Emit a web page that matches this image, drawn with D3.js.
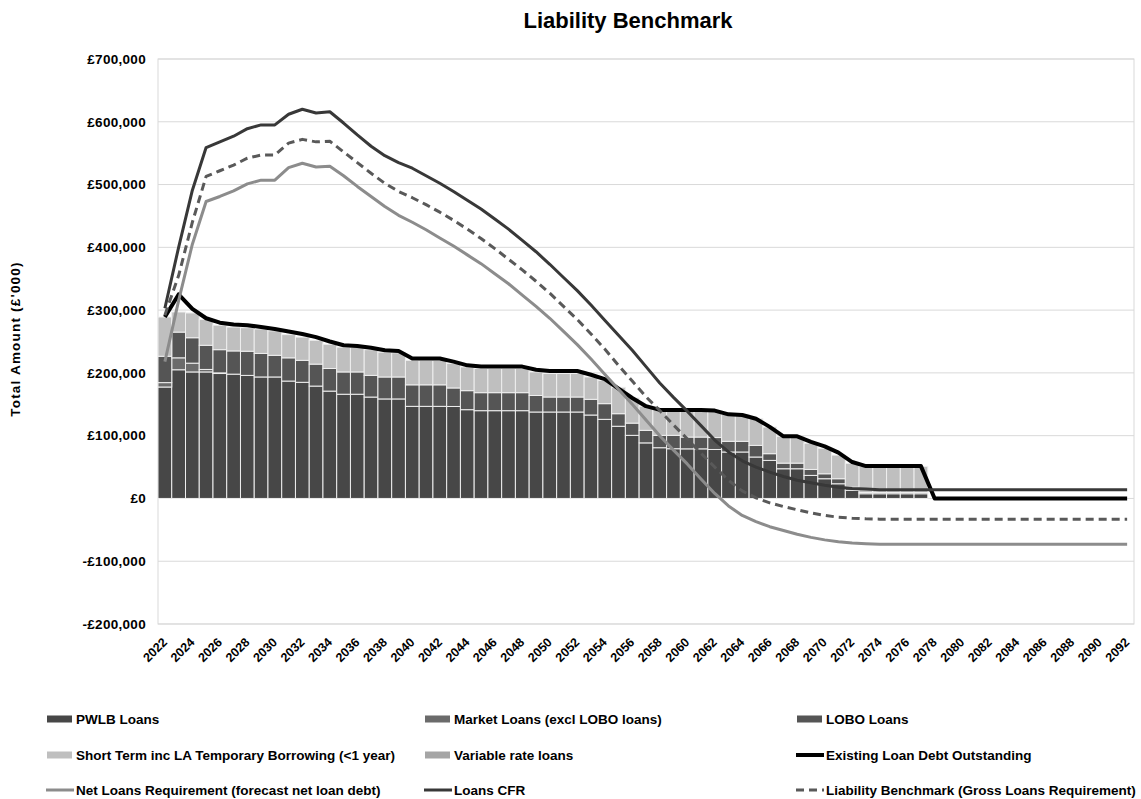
<!DOCTYPE html>
<html>
<head>
<meta charset="utf-8">
<script src="https://cdn.jsdelivr.net/npm/d3@7"></script>
<style>
  body { margin: 0; background: #fff; }
  svg text { font-family: "Liberation Sans", Arial, sans-serif; }
</style>
</head>
<body>
<div id="chart"></div>
<script>
// categories
const years = d3.range(2022, 2093);

// stacked bars (£'000)
const pwlb = [177500, 205000, 201500, 201500, 199000, 198000, 196000, 193500, 193500, 187000,
  185000, 179000, 171000, 166000, 166000, 161500, 158500, 158500, 146700, 146700,
  146700, 146500, 141400, 139800, 139800, 139800, 139800, 137700, 137700, 137700,
  137700, 132900, 126000, 115000, 100500, 88500, 80800, 79200, 79000, 79000,
  78000, 74000, 74000, 66000, 60600, 47300, 47300, 36700, 31400, 23400,
  13000, 7500, 7500, 7500, 7500, 7500, 0, 0, 0, 0,
  0, 0, 0, 0, 0, 0, 0, 0, 0, 0, 0];
const market = [7000, 19000, 14000, 4000, 1000, 0, 0, 0, 0, 0,
  0, 0, 0, 0, 0, 0, 0, 0, 0, 0,
  0, 0, 0, 0, 0, 0, 0, 0, 0, 0,
  0, 0, 0, 0, 0, 0, 0, 0, 0, 0,
  0, 0, 0, 0, 0, 0, 0, 0, 0, 0,
  0, 0, 0, 0, 0, 0, 0, 0, 0, 0,
  0, 0, 0, 0, 0, 0, 0, 0, 0, 0, 0];
const lobo = [42000, 41000, 40500, 38500, 37000, 37000, 38500, 37500, 34500, 37000,
  35000, 35000, 36000, 35500, 35500, 34500, 35000, 35000, 34300, 34300,
  34300, 29500, 30300, 28700, 28700, 28700, 28700, 26300, 23900, 23900,
  23900, 25000, 25000, 20000, 19500, 20000, 19700, 21300, 18800, 18800,
  19000, 17000, 17000, 18500, 10700, 9000, 9000, 9500, 7900, 8000,
  5000, 2000, 2000, 2000, 2000, 2000, 0, 0, 0, 0,
  0, 0, 0, 0, 0, 0, 0, 0, 0, 0, 0];
const shortTerm = [62500, 32000, 39500, 41000, 39000, 38000, 37500, 39000, 39000, 37000,
  37000, 38000, 38600, 39500, 39500, 41000, 39500, 38500, 39000, 39000,
  39000, 39000, 37800, 38500, 38500, 38500, 38500, 37500, 37400, 37400,
  37400, 35600, 37000, 42000, 40000, 38500, 40500, 40500, 43200, 43200,
  42000, 43000, 43000, 42500, 42400, 42700, 42700, 41800, 40700, 37600,
  38000, 41500, 41500, 41500, 41500, 41500, 0, 0, 0, 0,
  0, 0, 0, 0, 0, 0, 0, 0, 0, 0, 0];
const variableRate = [0, 0, 0, 0, 0, 0, 0, 0, 0, 0,
  0, 0, 0, 0, 0, 0, 0, 0, 0, 0,
  0, 0, 0, 0, 0, 0, 0, 0, 0, 0,
  0, 0, 0, 0, 0, 0, 0, 0, 0, 0,
  0, 0, 0, 0, 0, 0, 0, 0, 0, 0,
  0, 0, 0, 0, 0, 0, 0, 0, 0, 0,
  0, 0, 0, 0, 0, 0, 0, 0, 0, 0, 0];

// lines (£'000)
const existingDebt = [289000, 325000, 302000, 287000, 280000, 277000, 276000, 273000, 270000, 266000,
  262000, 257000, 250000, 244000, 243000, 240000, 236000, 235000, 223000, 223000,
  223000, 218000, 212000, 210000, 210000, 210000, 210000, 205000, 203000, 203000,
  203000, 197000, 190000, 175000, 160000, 147000, 141000, 141000, 141000, 141000,
  140000, 134000, 133000, 127000, 114000, 99000, 99000, 90000, 83000, 73000,
  58000, 51500, 51500, 51500, 51500, 51500, 0, 0, 0, 0,
  0, 0, 0, 0, 0, 0, 0, 0, 0, 0, 0];
const netLoans = [218000, 315000, 405000, 473000, 481000, 490000, 501000, 507000, 507000, 527000,
  534000, 528000, 529000, 514000, 497000, 481000, 465000, 451000, 440000, 428000,
  415000, 402000, 388000, 374000, 358000, 342000, 324000, 306000, 287000, 266000,
  245000, 222000, 198000, 174000, 150000, 125000, 100000, 77000, 55000, 31000,
  8000, -12000, -27000, -37000, -45000, -51000, -57000, -62000, -66000, -69000,
  -71000, -72000, -73000, -73000, -73000, -73000, -73000, -73000, -73000, -73000,
  -73000, -73000, -73000, -73000, -73000, -73000, -73000, -73000, -73000, -73000, -73000];
const loansCfr = [303000, 400000, 491000, 559000, 568000, 577000, 589000, 595000, 595000, 612000,
  620000, 614000, 616000, 598000, 579000, 561000, 546000, 535000, 526000, 514000,
  502000, 489000, 475000, 461000, 445000, 429000, 411000, 393000, 373000, 352000,
  331000, 308000, 284000, 260000, 236000, 210000, 184000, 161000, 139000, 116000,
  93000, 74000, 60000, 50000, 42000, 35000, 29000, 25000, 21000, 18000,
  16000, 15000, 14000, 14000, 14000, 14000, 14000, 14000, 14000, 14000,
  14000, 14000, 14000, 14000, 14000, 14000, 14000, 14000, 14000, 14000, 14000];
const benchmark = [292000, 355000, 440000, 513000, 522000, 531000, 542000, 547000, 547000, 566000,
  572000, 568000, 569000, 552000, 535000, 518000, 502000, 489000, 479000, 468000,
  456000, 443000, 429000, 414000, 398000, 381000, 364000, 346000, 327000, 306000,
  285000, 262000, 238000, 212000, 187000, 162000, 140000, 117000, 95000, 72000,
  50000, 29000, 12000, 1000, -7000, -13000, -18000, -23000, -27000, -30000,
  -31500, -32500, -33000, -33000, -33000, -33000, -33000, -33000, -33000, -33000,
  -33000, -33000, -33000, -33000, -33000, -33000, -33000, -33000, -33000, -33000, -33000];

const yTickValues = [-200000, -100000, 0, 100000, 200000, 300000, 400000, 500000, 600000, 700000];

const width = 1141, height = 799;
const plot = {left: 158, right: 1134, top: 59, bottom: 624};

const svg = d3.select('#chart').append('svg')
    .attr('width', width)
    .attr('height', height);

const x = d3.scaleBand().domain(years).range([plot.left, plot.right]).padding(0);
const y = d3.scaleLinear().domain([-200000, 700000]).range([plot.bottom, plot.top]);
const cx = (yr) => x(yr) + x.bandwidth() / 2;

// title
svg.append('text')
    .attr('x', 628).attr('y', 28)
    .attr('text-anchor', 'middle')
    .attr('font-size', 22).attr('font-weight', 'bold')
    .text('Liability Benchmark');

// gridlines + plot border
svg.append('g').selectAll('line')
    .data(yTickValues)
    .join('line')
    .attr('x1', plot.left).attr('x2', plot.right)
    .attr('y1', d => y(d)).attr('y2', d => y(d))
    .attr('stroke', '#d9d9d9').attr('stroke-width', 1);
svg.append('rect')
    .attr('x', plot.left).attr('y', plot.top)
    .attr('width', plot.right - plot.left).attr('height', plot.bottom - plot.top)
    .attr('fill', 'none').attr('stroke', '#d9d9d9');

// y axis
const money = d => (d < 0 ? '-£' : '£') + d3.format(',')(Math.abs(d));
svg.append('g')
    .attr('transform', `translate(${plot.left},0)`)
    .call(d3.axisLeft(y).tickValues(yTickValues).tickFormat(money).tickSize(0).tickPadding(12))
    .call(g => g.select('.domain').remove())
    .call(g => g.selectAll('text')
        .attr('font-family', '"Liberation Sans", Arial, sans-serif')
        .attr('font-size', 13.5).attr('letter-spacing', 0.3)
        .attr('font-weight', 'bold').attr('fill', '#000'));

svg.append('text')
    .attr('transform', 'translate(20,339) rotate(-90)')
    .attr('text-anchor', 'middle')
    .attr('font-size', 13.5).attr('font-weight', 'bold')
    .attr('letter-spacing', 1.2)
    .text("Total Amount (£'000)");

// x labels, every other year
svg.append('g').selectAll('text')
    .data(years.filter(d => d % 2 === 0))
    .join('text')
    .attr('transform', d => `translate(${cx(d) + 3},${plot.bottom + 19}) rotate(-45)`)
    .attr('text-anchor', 'end')
    .attr('font-size', 12.5).attr('font-weight', 'bold')
    .text(d => d);

// stacked bars
const keys = ['pwlb', 'market', 'lobo', 'shortTerm', 'variableRate'];
const colors = {pwlb: '#474747', market: '#6b6b6b', lobo: '#555555', shortTerm: '#bfbfbf', variableRate: '#a5a5a5'};
const rows = years.map((yr, i) => ({
    year: yr, pwlb: pwlb[i], market: market[i], lobo: lobo[i],
    shortTerm: shortTerm[i], variableRate: variableRate[i]
}));
const series = d3.stack().keys(keys)(rows);

svg.append('g').selectAll('g')
    .data(series)
    .join('g')
    .attr('fill', d => colors[d.key])
    .selectAll('rect')
    .data(d => d.filter(s => s[1] - s[0] > 0))
    .join('rect')
    .attr('x', d => x(d.data.year))
    .attr('y', d => y(d[1]))
    .attr('width', x.bandwidth())
    .attr('height', d => y(d[0]) - y(d[1]))
    .attr('stroke', '#eeeeee').attr('stroke-width', 1);

// lines
const lineDefs = [
    {values: existingDebt, color: '#000000', width: 4, dash: null},
    {values: netLoans, color: '#8c8c8c', width: 3, dash: null},
    {values: loansCfr, color: '#383838', width: 3, dash: null},
    {values: benchmark, color: '#595959', width: 3, dash: '8,5'}
];
const line = d3.line().x((d, i) => cx(years[i])).y(d => y(d));
svg.append('g').selectAll('path')
    .data(lineDefs)
    .join('path')
    .attr('d', d => line(d.values))
    .attr('fill', 'none')
    .attr('stroke', d => d.color)
    .attr('stroke-width', d => d.width)
    .attr('stroke-dasharray', d => d.dash)
    .attr('stroke-linejoin', 'round');

// legend
const legendItems = [
    {label: 'PWLB Loans', type: 'bar', color: colors.pwlb},
    {label: 'Market Loans (excl LOBO loans)', type: 'bar', color: colors.market},
    {label: 'LOBO Loans', type: 'bar', color: colors.lobo},
    {label: 'Short Term inc LA Temporary Borrowing (<1 year)', type: 'bar', color: colors.shortTerm},
    {label: 'Variable rate loans', type: 'bar', color: colors.variableRate},
    {label: 'Existing Loan Debt Outstanding', type: 'line', color: '#000000', width: 4},
    {label: 'Net Loans Requirement (forecast net loan debt)', type: 'line', color: '#8c8c8c', width: 3},
    {label: 'Loans CFR', type: 'line', color: '#383838', width: 3},
    {label: 'Liability Benchmark (Gross Loans Requirement)', type: 'line', color: '#595959', width: 3, dash: '8,5'}
];
const colX = [47, 425, 797];
const rowY = [719, 755, 790];
const legend = svg.append('g').selectAll('g')
    .data(legendItems)
    .join('g')
    .attr('transform', (d, i) => `translate(${colX[i % 3]},${rowY[Math.floor(i / 3)]})`);
legend.filter(d => d.type === 'bar').append('rect')
    .attr('x', 0).attr('y', -3.5).attr('width', 25).attr('height', 7)
    .attr('fill', d => d.color);
legend.filter(d => d.type === 'line').append('line')
    .attr('x1', -1).attr('x2', 27).attr('y1', 0).attr('y2', 0)
    .attr('stroke', d => d.color).attr('stroke-width', d => d.width)
    .attr('stroke-dasharray', d => d.dash || null);
legend.append('text')
    .attr('x', 29).attr('y', 5)
    .attr('font-size', 13.5).attr('font-weight', 'bold')
    .text(d => d.label);
</script>
</body>
</html>
